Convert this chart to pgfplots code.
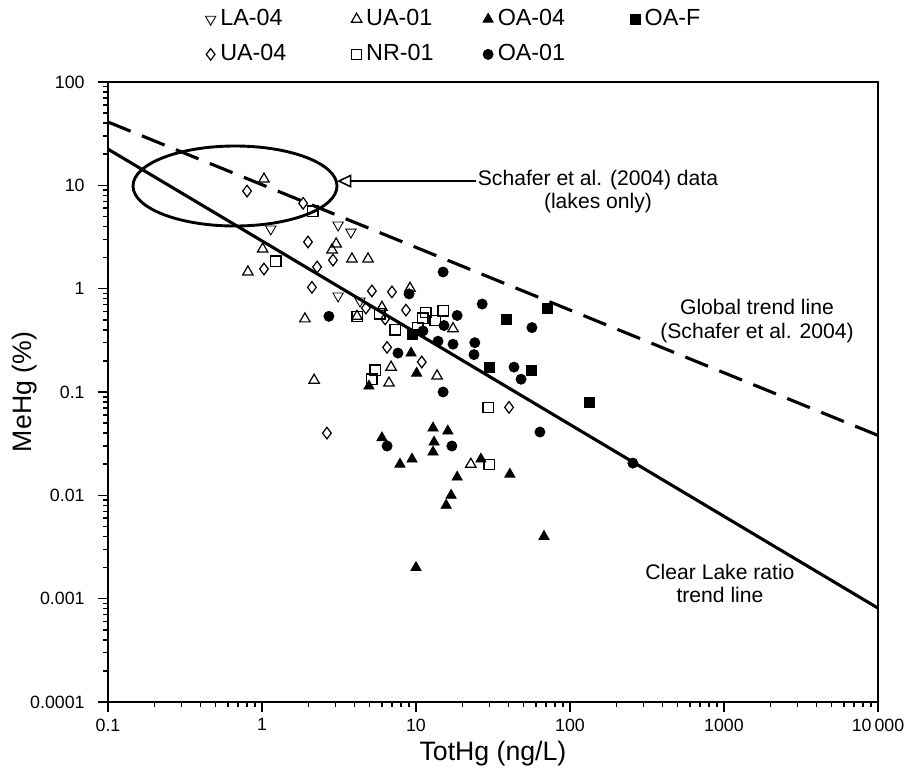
\documentclass[border=0pt]{standalone}
\usepackage{fontspec}
\setmainfont{Liberation Sans}
\usepackage{pgfplots}
\pgfplotsset{compat=1.18}
\usetikzlibrary{arrows.meta}

\begin{document}
\begin{tikzpicture}
\useasboundingbox (-48.6pt,-31.5pt) rectangle (358.65pt,315.9pt);
\begin{axis}[
  name=ax, at={(0,0)}, anchor=south west,
  scale only axis, width=346.5pt, height=279pt,
  xmode=log, ymode=log,
  xmin=0.1, xmax=10000, ymin=0.0001, ymax=100,
  xtick={0.1,1,10,100,1000,10000},
  xticklabels={0.1,1,10,100,1000,10\,000},
  ytick={0.0001,0.001,0.01,0.1,1,10,100},
  yticklabels={0.0001,0.001,0.01,0.1,1,10,100},
  xtick pos=bottom, ytick pos=left,
  tick align=outside,
  major tick length=4.5pt, minor tick length=2.2pt,
  every tick/.style={black, line width=0.7pt},
  axis line style={line width=1pt},
  tick label style={font=\fontsize{8}{10}\selectfont},
  yticklabel style={xshift=-2.5pt},
  xticklabel style={yshift=0.5pt},
  /pgf/number format/assume math mode=true,
  xlabel={TotHg (ng/L)}, ylabel={MeHg (\%)},
  label style={font=\fontsize{12}{14}\selectfont},
  xlabel style={at={(axis description cs:0.5,-0.083)}, anchor=center},
  ylabel style={at={(axis description cs:-0.108,0.5)}, anchor=center},
  legend columns=4,
  legend style={draw=none, fill=none, inner sep=0pt,
    at={(axis description cs:0.126,1.125)}, anchor=north west,
    font=\fontsize{10.5}{12}\selectfont, row sep=3pt,
    /tikz/every even column/.append style={column sep=1pt}},
  legend image code/.code={\draw[#1] plot coordinates {(0pt,0pt)};},
  open/.style={only marks, mark options={draw=black, fill=white, line width=0.55pt}},
  full/.style={only marks, mark options={draw=black, fill=black, line width=0.3pt}},
]
% global trend line and Clear Lake ratio line
\addplot[forget plot, black, line width=1.4pt, dash pattern=on 11pt off 5.5pt] coordinates {(0.1,41) (10000,0.038)};
\addplot[forget plot, black, line width=1.4pt] coordinates {(0.1,22.4) (10000,0.00081)};

% LA-04
\addplot[open, mark=triangle, mark size=2.7pt, mark options={rotate=180}] coordinates {
  (1.14,3.78) (3.12,4.13) (3.78,3.53) (3.12,0.85) (4.33,0.76)
};
\addlegendentry{\makebox[56pt][l]{LA-04}}
% UA-01
\addplot[open, mark=triangle, mark size=2.7pt] coordinates {
  (1.03,11.5) (3.03,2.71) (2.85,2.37) (1.01,2.42) (3.84,1.94) (4.88,1.94)
  (0.81,1.45) (1.90,0.51) (9.14,1.01) (6.01,0.66) (4.14,0.54) (17.4,0.41)
  (6.89,0.174) (13.7,0.143) (6.68,0.122) (2.18,0.130) (22.7,0.020)
};
\addlegendentry{\makebox[49.5pt][l]{UA-01}}
% OA-04
\addplot[full, mark=triangle*, mark size=2.7pt] coordinates {
  (9.29,0.238) (10.1,0.152) (4.95,0.114) (6.01,0.036) (7.87,0.020)
  (9.42,0.0224) (12.9,0.0448) (16.1,0.0419) (13.1,0.0327) (12.9,0.0262)
  (26.4,0.0224) (18.5,0.015) (40.7,0.016) (16.9,0.010) (15.7,0.0080)
  (67.8,0.0040) (10.0,0.0020)
};
\addlegendentry{\makebox[56.5pt][l]{OA-04}}
% OA-F
\addplot[full, mark=square*, mark size=2.3pt] coordinates {
  (9.42,0.363) (38.4,0.508) (71.0,0.649) (29.8,0.174) (55.8,0.163) (133,0.080)
};
\addlegendentry{OA-F}
% UA-04
\addplot[open, mark=diamond, mark size=2.6pt] coordinates {
  (0.80,8.8) (1.85,6.7) (1.99,2.83) (2.89,1.89) (1.03,1.55) (2.28,1.62)
  (2.11,1.03) (5.17,0.95) (6.98,0.93) (4.73,0.65) (6.30,0.51) (8.61,0.62)
  (6.49,0.27) (10.9,0.195) (40.2,0.071) (2.64,0.040)
};
\addlegendentry{\makebox[56pt][l]{UA-04}}
% NR-01
\addplot[open, mark=square, mark size=2.3pt] coordinates {
  (2.14,5.64) (1.23,1.85) (4.14,0.54) (5.83,0.57) (7.31,0.40) (11.6,0.59)
  (15.0,0.61) (11.1,0.52) (13.3,0.49) (10.3,0.42) (5.42,0.163) (5.17,0.133)
  (29.4,0.071) (29.8,0.020)
};
\addlegendentry{\makebox[49.5pt][l]{NR-01}}
% OA-01
\addplot[full, mark=*, mark size=2.3pt] coordinates {
  (15.0,1.45) (26.9,0.71) (9.02,0.89) (2.72,0.54) (18.5,0.55) (15.2,0.44)
  (11.1,0.39) (13.9,0.31) (17.4,0.29) (24.1,0.30) (23.8,0.23) (56.6,0.42)
  (7.64,0.238) (43.3,0.174) (48.1,0.133) (15.0,0.10) (63.8,0.041)
  (6.49,0.030) (17.1,0.030) (256,0.0205)
};
\addlegendentry{\makebox[56.5pt][l]{OA-01}}

% Schafer et al. (2004) lake data
\draw[line width=1.3pt] (axis cs:0.668,9.85) ellipse [x radius=45.9pt, y radius=18pt];
\draw[line width=0.6pt, -{Triangle[open, length=6.5pt, width=6pt, line width=0.7pt]}]
  (axis cs:24.5,11) -- (axis cs:3.07,11);

\node[align=center, font=\fontsize{9.5}{10.5}\selectfont] at (axis cs:152,8.71)
  {Schafer et al. (2004) data\\(lakes only)};
\node[align=center, font=\fontsize{9.5}{10.5}\selectfont] at (axis cs:1637,0.485)
  {Global trend line\\(Schafer et al. 2004)};
\node[align=center, font=\fontsize{9.5}{10.5}\selectfont] at (axis cs:942,0.00141)
  {Clear Lake ratio\\trend line};
\end{axis}
\end{tikzpicture}
\end{document}
